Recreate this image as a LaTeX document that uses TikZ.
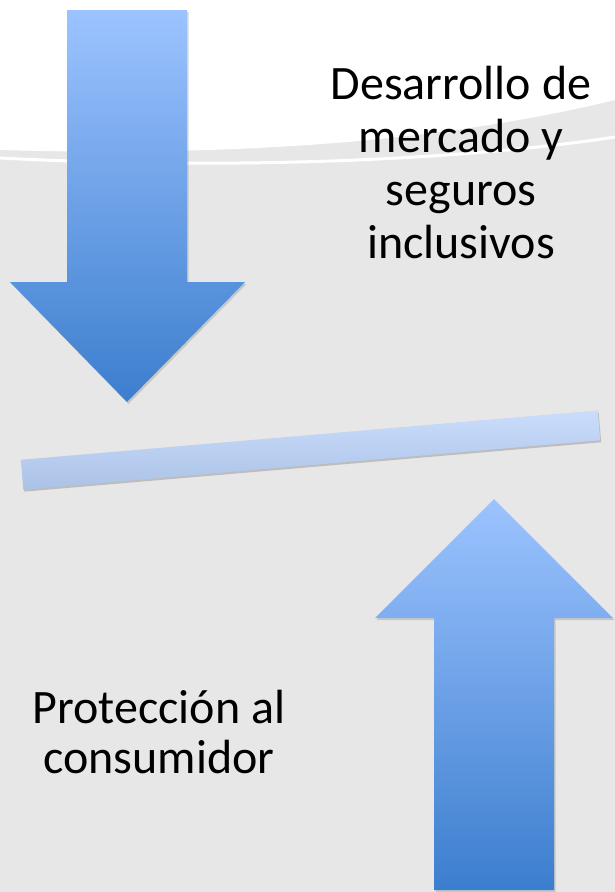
\documentclass[tikz,border=0pt]{standalone}
\usepackage{fontspec}
\setmainfont{Carlito}
\usetikzlibrary{shadows, positioning}

\definecolor{arrowtop}{HTML}{9CC3FF}
\definecolor{arrowbottom}{HTML}{3C7ECE}
\definecolor{bartop}{HTML}{CADDFB}
\definecolor{barbottom}{HTML}{ABC2E7}
\definecolor{backgray}{HTML}{E7E7E7}

\tikzset{
    bluearrow/.style = {draw=none, top color=arrowtop, bottom color=arrowbottom,
      drop shadow={shadow xshift=1.5pt, shadow yshift=-2pt, opacity=0.3}},
    tiltbar/.style = {rectangle, draw=none, top color=bartop, bottom color=barbottom,
      minimum width=579pt, minimum height=30pt, inner sep=0pt,
      drop shadow={shadow xshift=1pt, shadow yshift=-2pt, opacity=0.4}},
    bigtext/.style = {draw=none, fill=none, inner sep=0pt, align=center,
      font=\fontsize{48}{52.7}\selectfont}
}

\begin{document}
\begin{tikzpicture}[x=1pt, y=-1pt]
    % background
    \fill[backgray] (0,0) rectangle (615,892);
    \useasboundingbox (0,0) rectangle (615,892);
    \fill[white] (0,0) -- (0,150) .. controls (250,157) and (450,140) .. (615,100) -- (615,0) -- cycle;
    \draw[white, line width=3pt] (0,158) .. controls (250,171) and (480,158) .. (615,137);

    % arrow pointing down
    \path[bluearrow] (67,10) -- (187,10) -- (187,282) -- (245,282) -- (127,402)
        -- (10,282) -- (67,282) -- cycle;
    % arrow pointing up
    \path[bluearrow] (494,499) -- (613,618) -- (554,618) -- (554,890) -- (434,890)
        -- (434,618) -- (375,618) -- cycle;

    % tilted bar
    \node [name=bar, tiltbar, rotate=4.9] at (310.5,450) {};

    \node [name=market, bigtext, anchor=base] at (461,258)
        {Desarrollo de\\mercado y\\seguros\\inclusivos};
    \node [name=consumer, bigtext, anchor=base, font=\fontsize{48}{50}\selectfont] at (159,773)
        {Protección al\\consumidor};
\end{tikzpicture}
\end{document}
